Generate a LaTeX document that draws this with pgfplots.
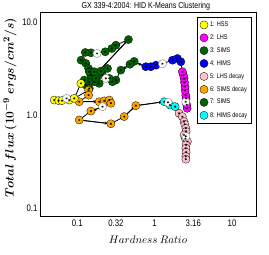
\documentclass[border=0pt]{standalone}
\usepackage{fontspec}
\setmainfont{Liberation Sans}[FakeStretch=0.82]
\usepackage{bm}
\usepackage{pgfplots}
\pgfplotsset{compat=1.18}
\usepackage{pgfplotstable}
\usetikzlibrary{arrows.meta}

\definecolor{cHSS}{RGB}{255,255,0}
\definecolor{cLHS}{RGB}{255,0,255}
\definecolor{cSIMS}{RGB}{0,100,0}
\definecolor{cHIMS}{RGB}{0,0,255}
\definecolor{cLHSd}{RGB}{255,192,203}
\definecolor{cSIMSd}{RGB}{255,165,0}
\definecolor{cHIMSd}{RGB}{0,255,255}

\pgfplotstableread{
x y
2.63 1.19
2.60 1.30
2.55 1.52
2.52 1.65
2.47 1.86
2.47 2.05
2.43 2.26
2.40 2.50
2.36 2.69
2.28 2.95
}\tLHS
\pgfplotstableread{
x y
2.18 3.78
1.97 4.10
1.70 3.93
1.04 3.47
0.893 3.34
0.769 3.34
}\tHIMS
\pgfplotstableread{
x y
0.544 3.81
0.480 3.55
0.366 3.07
0.316 2.40
0.285 2.30
0.259 2.50
0.192 2.21
0.166 2.30
0.143 2.30
0.129 2.12
0.123 2.40
0.143 1.95
0.150 2.71
0.174 2.50
0.212 2.71
}\tSIMSa
\pgfplotstableread{
x y
0.459 6.56
0.316 5.70
0.280 5.25
0.230 4.84
0.150 4.72
0.127 4.76
0.112 3.93
0.129 3.63
0.140 3.20
0.143 2.95
0.166 2.95
0.202 3.00
0.246 3.20
}\tSIMSb
\pgfplotstableread{
x y
0.0505 1.46
0.0574 1.44
0.0635 1.44
0.0788 1.46
0.0915 1.52
0.1116 2.21
}\tHSS
\pgfplotstableread{
x y
0.140 1.87
0.140 1.65
0.106 1.40
0.192 1.40
0.223 1.43
0.259 1.46
0.272 1.35
0.150 1.11
0.106 0.890
0.272 0.810
0.404 0.969
0.572 1.27
}\tSIMSd
\pgfplotstableread{
x y
1.33 1.40
1.58 1.29
1.84 1.24
}\tHIMSd
\pgfplotstableread{
x y
2.07 1.05
2.28 0.968
2.40 0.855
2.45 0.80
2.53 0.725
2.55 0.67
2.40 0.614
2.50 0.56
2.65 0.521
2.55 0.48
2.53 0.442
2.55 0.40
2.53 0.360
2.53 0.336
}\tLHSd
\pgfplotstableread{
x y
1.26 3.60
0.234 2.50
0.180 4.64
0.0728 1.52
0.212 1.24
1.49 1.38
2.52 1.40
2.53 0.594
}\tCent
\pgfplotstableread{
x y
2.63 1.19
2.55 1.52
2.47 2.05
2.40 2.50
2.28 2.95
2.18 3.78
1.97 4.10
1.70 3.93
1.26 3.60
1.04 3.47
0.893 3.34
0.769 3.34
0.544 3.81
0.480 3.55
0.366 3.07
0.316 2.40
0.285 2.30
0.234 2.50
0.192 2.21
0.166 2.30
0.143 2.30
0.129 2.12
0.459 6.56
0.316 5.70
0.280 5.25
0.230 4.84
0.180 4.64
0.150 4.72
0.127 4.76
0.112 3.93
0.129 3.63
0.140 3.20
0.143 2.95
0.166 2.95
0.202 3.00
0.246 3.20
}\tTrajA
\pgfplotstableread{
x y
0.1116 2.21
0.0915 1.52
0.0788 1.46
0.0635 1.44
0.0505 1.46
}\tTrajB
\pgfplotstableread{
x y
0.0915 1.52
0.140 1.87
0.140 1.65
0.106 1.40
0.192 1.40
0.223 1.43
0.259 1.46
0.272 1.35
0.212 1.24
0.150 1.11
0.106 0.890
0.272 0.810
0.404 0.969
0.572 1.27
1.33 1.40
1.49 1.38
1.58 1.29
1.84 1.24
2.07 1.05
2.28 0.968
2.40 0.855
2.53 0.725
2.53 0.594
2.65 0.521
2.53 0.442
2.53 0.336
}\tTrajC

\pgfplotsset{
  pt/.style={only marks, mark=*, mark size=4.1pt,
    mark options={fill=#1, draw=black, line width=0.3pt}},
  st/.style={only marks, mark=asterisk, mark size=1.2pt,
    mark options={black, line width=0.3pt}, forget plot},
  arr/.style={black, line width=0.8pt, -{Stealth[length=3.5pt,width=3pt]}, forget plot},
}

\begin{document}
\begin{tikzpicture}
\useasboundingbox (0pt,0pt) rectangle (269pt,255pt);
\begin{axis}[
  at={(40pt,39pt)}, anchor=south west,
  scale only axis, width=216pt, height=204pt,
  xmode=log, ymode=log,
  xmin=0.033, xmax=20.4, ymin=0.082, ymax=13,
  xtick={0.1,0.316,1,3.16,10}, xticklabels={0.1,0.32,1,3.16,10},
  ytick={0.1,1,10}, yticklabels={0.1,1.0,10.0},
  major tick length=0pt,
  xminorticks=false, yminorticks=false,
  tick label style={font=\fontsize{9.5}{10}\selectfont},
  yticklabel style={xshift=1pt},
  axis line style={line width=0.8pt},
  every axis title shift=0pt,
  title={GX 339-4:2004: HID K-Means Clustering},
  title style={font=\fontsize{8.6}{9}\selectfont, at={(rel axis cs:0.49,1)}, anchor=center, yshift=6pt, inner sep=0pt},
  xlabel={$Hardness\ Ratio$},
  xlabel style={font=\fontsize{10.5}{11}\selectfont, at={(rel axis cs:0.5,0)}, anchor=center, yshift=-24pt},
  ylabel={$\bm{Total\ flux\ (10^{-9}\ ergs/cm^2/s)}$},
  ylabel style={font=\fontsize{12.5}{13}\selectfont, at={(rel axis cs:0,0.53)}, anchor=center, yshift=30pt},
  legend style={font=\fontsize{6.8}{7}\selectfont, at={(rel axis cs:0.981,0.975)}, anchor=north east,
    draw=black, line width=0.4pt, row sep=2.6pt, inner sep=2.5pt},
  legend cell align=left,
]
\addplot[black, line width=0.8pt, forget plot] table {\tTrajA};
\addplot[black, line width=0.8pt, forget plot] table {\tTrajB};
\addplot[black, line width=0.8pt, forget plot] table {\tTrajC};
\addplot[arr] coordinates {(0.769,3.34) (0.60,3.62)};
\addplot[arr] coordinates {(0.544,3.81) (0.39,3.15)};
\addplot[arr] coordinates {(0.129,2.12) (0.44,6.35)};
\addplot[arr] coordinates {(0.106,1.40) (0.18,1.40)};
\addplot[arr] coordinates {(0.212,1.24) (0.158,1.12)};
\addplot[arr] coordinates {(0.106,0.890) (0.25,0.817)};
\addplot[arr] coordinates {(0.404,0.969) (0.55,1.24)};
\addplot[arr] coordinates {(0.572,1.27) (1.26,1.395)};

\addplot[pt=cSIMS, forget plot] table {\tSIMSa};
\addplot[pt=cSIMS, forget plot] table {\tSIMSb};
\addplot[pt=cHIMS, forget plot] table {\tHIMS};
\addplot[pt=cLHS, forget plot] table {\tLHS};
\addplot[pt=cLHSd, forget plot] table {\tLHSd};
\addplot[pt=cHIMSd, forget plot] table {\tHIMSd};
\addplot[pt=cSIMSd, forget plot] table {\tSIMSd};
\addplot[pt=cHSS, forget plot] table {\tHSS};
\addplot[only marks, mark=*, mark size=4.1pt, mark options={fill=white, draw=gray, line width=0.4pt}, forget plot] table {\tCent};

\addplot[st] table {\tSIMSa};
\addplot[st] table {\tSIMSb};
\addplot[st] table {\tHIMS};
\addplot[st] table {\tLHS};
\addplot[st] table {\tLHSd};
\addplot[st] table {\tHIMSd};
\addplot[st] table {\tSIMSd};
\addplot[st] table {\tHSS};
\addplot[st] table {\tCent};

\addlegendimage{pt=cHSS}\addlegendentry{1: HSS}
\addlegendimage{pt=cLHS}\addlegendentry{2: LHS}
\addlegendimage{pt=cSIMS}\addlegendentry{3: SIMS}
\addlegendimage{pt=cHIMS}\addlegendentry{4: HIMS}
\addlegendimage{pt=cLHSd}\addlegendentry{5: LHS decay}
\addlegendimage{pt=cSIMSd}\addlegendentry{6: SIMS decay}
\addlegendimage{pt=cSIMS}\addlegendentry{7: SIMS}
\addlegendimage{pt=cHIMSd}\addlegendentry{8: HIMS decay}
\end{axis}
\end{tikzpicture}
\end{document}
